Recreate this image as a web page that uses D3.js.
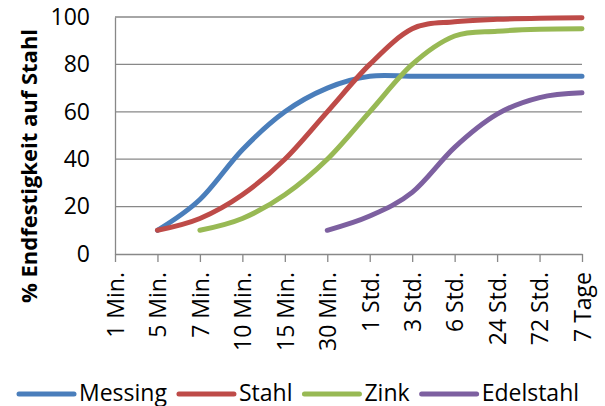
<!DOCTYPE html>
<html>
<head>
<meta charset="utf-8">
<script src="https://cdn.jsdelivr.net/npm/d3@7"></script>
<style>
  body { margin: 0; background: #fff; }
  svg { display: block; font-family: "Open Sans", sans-serif; }
</style>
</head>
<body>
<svg id="chart" width="605" height="406"></svg>
<script>
// Kategorien der x-Achse
var categories = ["1 Min.", "5 Min.", "7 Min.", "10 Min.", "15 Min.", "30 Min.",
  "1 Std.", "3 Std.", "6 Std.", "24 Std.", "72 Std.", "7 Tage"];

// Werte je Werkstoff (null = kein Wert)
var messing   = [null, 10, 23, 44, 60, 70, 75, 75, 75, 75, 75, 75];
var stahl     = [null, 10, 15, 25, 40, 60, 80, 95, 98, 99, 99.5, 99.7];
var zink      = [null, null, 10, 15, 25, 40, 60, 80, 92, 94, 94.8, 95];
var edelstahl = [null, null, null, null, null, 10, 16, 26, 45, 59, 66, 68];

var seriesNames = ["Messing", "Stahl", "Zink", "Edelstahl"];
var yTicks = [0, 20, 40, 60, 80, 100];

var series = [messing, stahl, zink, edelstahl].map(function(values, i) {
  return { name: seriesNames[i], values: values };
});
var colors = ["#4A7EBB", "#BE4B48", "#98B954", "#7D60A0"];

var svg = d3.select("#chart");
var plotLeft = 115, plotRight = 582, plotTop = 17, plotBottom = 254;

var x = d3.scalePoint().domain(categories).range([plotLeft, plotRight]);
var y = d3.scaleLinear().domain([0, 100]).range([plotBottom, plotTop]);

// Gitterlinien
svg.append("g").selectAll("line")
  .data(yTicks.filter(function(d) { return d > 0; }))
  .enter().append("line")
    .attr("x1", plotLeft).attr("x2", plotRight)
    .attr("y1", function(d) { return y(d); })
    .attr("y2", function(d) { return y(d); })
    .attr("stroke", "#888").attr("stroke-width", 1.3);

// y-Achse
var yAxis = svg.append("g")
  .attr("transform", "translate(" + plotLeft + ",0)")
  .call(d3.axisLeft(y).tickValues(yTicks).tickSize(0).tickPadding(25));
yAxis.select(".domain").attr("stroke", "#888").attr("stroke-width", 1.3);
yAxis.selectAll("text")
  .attr("font-family", "Open Sans").attr("font-size", "23px").attr("fill", "#000");

// x-Achse
var xAxis = svg.append("g")
  .attr("transform", "translate(0," + plotBottom + ")")
  .call(d3.axisBottom(x).tickSize(8).tickSizeOuter(0));
xAxis.select(".domain").attr("stroke", "#888").attr("stroke-width", 1.3);
xAxis.selectAll(".tick line").attr("stroke", "#888").attr("stroke-width", 1.3);
xAxis.selectAll("text")
  .attr("font-family", "Open Sans").attr("font-size", "23px").attr("fill", "#000")
  .attr("text-anchor", "end")
  .attr("transform", "translate(0,18) rotate(-90)")
  .attr("x", 0).attr("y", 0).attr("dy", "0.36em");

// Achsentitel
svg.append("text")
  .attr("transform", "translate(37,166) rotate(-90)")
  .attr("text-anchor", "middle")
  .attr("font-size", "22px").attr("font-weight", "bold")
  .text("% Endfestigkeit auf Stahl");

// Linien
var line = d3.line()
  .defined(function(d) { return d != null; })
  .x(function(d, i) { return x(categories[i]); })
  .y(function(d) { return y(d); })
  .curve(d3.curveCardinal.tension(0));

svg.append("g").selectAll("path")
  .data(series)
  .enter().append("path")
    .attr("d", function(s) { return line(s.values); })
    .attr("fill", "none")
    .attr("stroke", function(s, i) { return colors[i]; })
    .attr("stroke-width", 5)
    .attr("stroke-linecap", "round")
    .attr("stroke-linejoin", "round");

// Legende
var legend = svg.append("g");
var lx = 19, ly = 394;
series.forEach(function(s, i) {
  legend.append("line")
    .attr("x1", lx).attr("x2", lx + 55)
    .attr("y1", ly).attr("y2", ly)
    .attr("stroke", colors[i]).attr("stroke-width", 5)
    .attr("stroke-linecap", "round");
  var t = legend.append("text")
    .attr("x", lx + 60).attr("y", ly + 7)
    .attr("font-size", "23px")
    .text(s.name);
  lx += 60 + t.node().getComputedTextLength() + 12;
});
</script>
</body>
</html>
